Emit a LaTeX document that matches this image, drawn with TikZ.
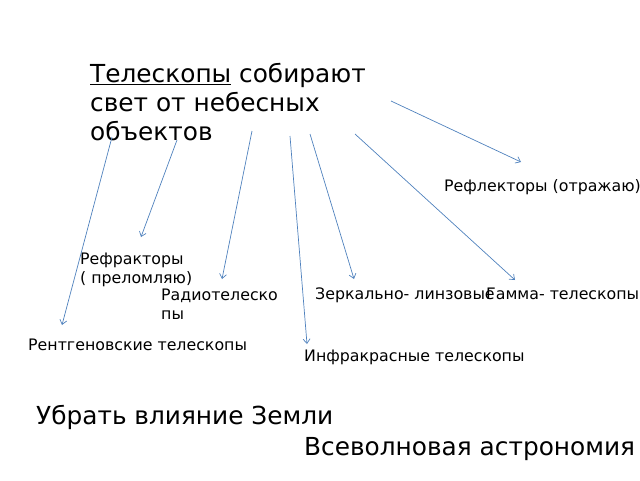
\documentclass[tikz,border=0pt]{standalone}
\usepackage{fontspec}
\setmainfont{DejaVu Sans}
\usetikzlibrary{arrows.meta}

\definecolor{myblue}{RGB}{79,129,189}

\begin{document}
\begin{tikzpicture}[x=1pt, y=-1pt,
	arr/.style={-{Straight Barb[length=4.5pt,width=7pt]}, myblue, line width=0.7pt},
	big/.style={inner sep=0, anchor=base west, font=\fontsize{24.8}{29}\selectfont, align=left},
	small/.style={inner sep=0, anchor=base west, font=\fontsize{15.8}{18.5}\selectfont, align=left}]

	\useasboundingbox (0,0) rectangle (640,480);

	% captions (base of the last line)
	\node [big] (title) at (90,140) {\underline{Телескопы} собирают\\свет от небесных\\объектов};
	\node [small] (reflector) at (444,191) {Рефлекторы (отражаю)};
	\node [small] (refractor) at (80,283) {Рефракторы\\( преломляю)};
	\node [small] (radio) at (161,319) {Радиотелеско\\пы};
	\node [small] (mirror) at (315,299) {Зеркально- линзовые};
	\node [small] (gamma) at (486,299) {Гамма- телескопы};
	\node [small] (xray) at (28,350) {Рентгеновские телескопы};
	\node [small] (infrared) at (304,361) {Инфракрасные телескопы};
	\node [big] (earth) at (36,424) {Убрать влияние Земли};
	\node [big] (allwave) at (304,455) {Всеволновая астрономия};

	% arrow ends
	\coordinate (s1) at (391,101); \coordinate (e1) at (521,162);
	\coordinate (s2) at (177,140); \coordinate (e2) at (141,237);
	\coordinate (s3) at (112,137); \coordinate (e3) at (62,325);
	\coordinate (s4) at (252,131); \coordinate (e4) at (222,279);
	\coordinate (s5) at (290,136); \coordinate (e5) at (307,344);
	\coordinate (s6) at (310,134); \coordinate (e6) at (354,279);
	\coordinate (s7) at (355,134); \coordinate (e7) at (515,280);

	% arrows
	\draw [arr] (s1) -- (e1);
	\draw [arr] (s2) -- (e2);
	\draw [arr] (s3) -- (e3);
	\draw [arr] (s4) -- (e4);
	\draw [arr] (s5) -- (e5);
	\draw [arr] (s6) -- (e6);
	\draw [arr] (s7) -- (e7);
\end{tikzpicture}
\end{document}
